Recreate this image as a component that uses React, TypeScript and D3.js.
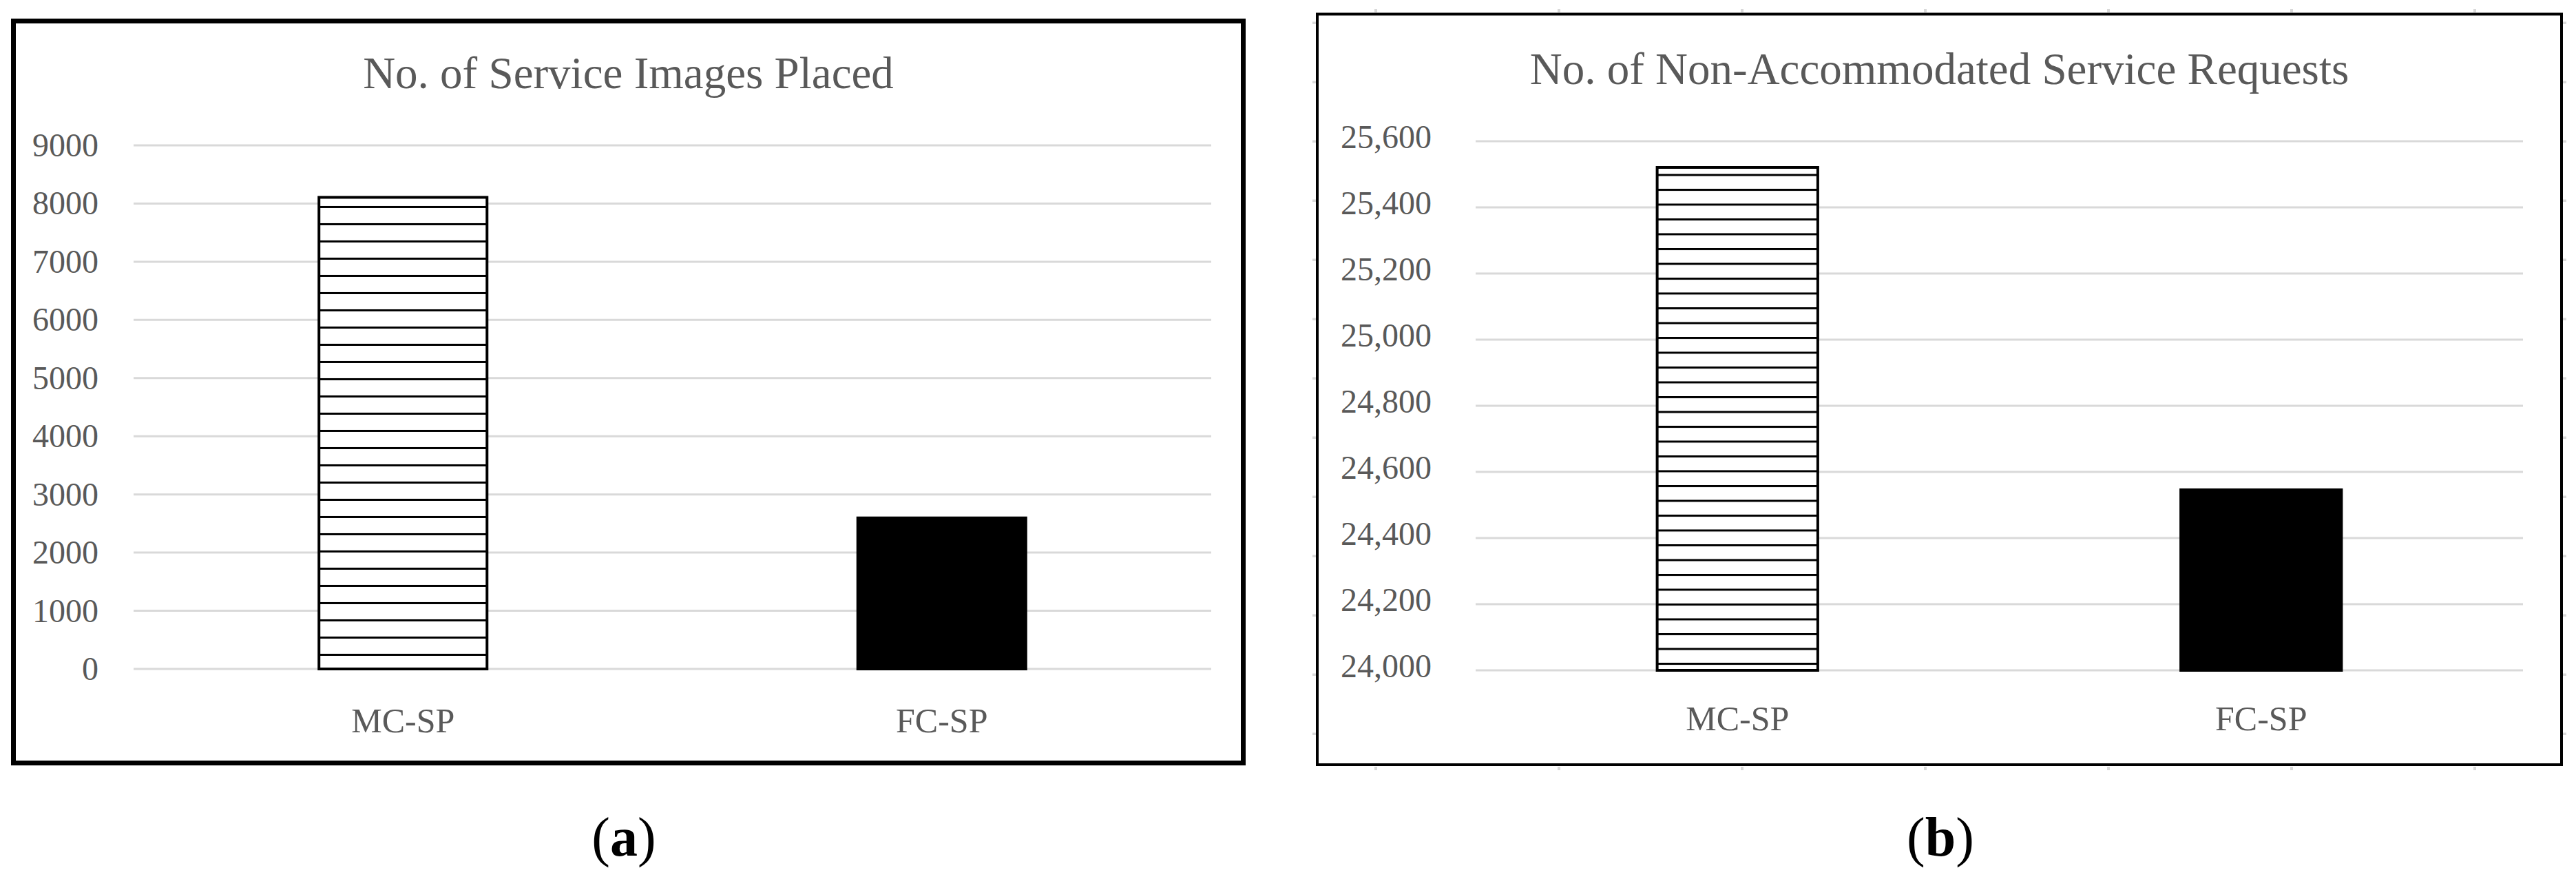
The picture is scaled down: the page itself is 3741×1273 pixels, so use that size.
import React from "react";
import * as d3 from "d3";

// values
const categories = ["MC-SP", "FC-SP"];
const imagesPlaced = [8130, 2620];
const imageTicks = [0, 1000, 2000, 3000, 4000, 5000, 6000, 7000, 8000, 9000];
const nonAccommodated = [25525, 24550];
const requestTicks = [24000, 24200, 24400, 24600, 24800, 25000, 25200, 25400, 25600];

const FONT = "'Liberation Serif', 'Times New Roman', serif";
const GREY = "#595959";
const GRID = "#d9d9d9";

type Box = { left: number; right: number; top: number; bottom: number };

type PanelProps = {
  id: string;
  title: string;
  letter: string;
  values: number[];
  ticks: number[];
  fmt: (n: number) => string;
  frame: Box;
  frameWidth: number;
  plot: Box;
  padInner: number;
  titleY: number;
  tickX: number;
  tickDy: number;
  catY: number;
  letterX: number;
  hatchGap: number;
  hatchOffset: number;
  stubs?: boolean;
};

function Panel(p: PanelProps) {
  const x = d3
    .scaleBand<string>()
    .domain(categories)
    .range([p.plot.left, p.plot.right])
    .paddingInner(p.padInner)
    .paddingOuter(p.padInner / 2);
  const y = d3
    .scaleLinear()
    .domain(d3.extent(p.ticks) as [number, number])
    .range([p.plot.bottom, p.plot.top]);

  const cx = (p.frame.left + p.frame.right) / 2;
  const hatchId = "hatch-" + p.id;
  const hatchY = y(p.values[0]) + p.hatchOffset - 1.5;

  // faint stub marks left over around the chart frame in panel (b)
  const stubRows = d3.range(33, 1070, 86);
  const stubCols = d3.range(1998, 3700, 266);

  return (
    <g>
      <defs>
        <pattern id={hatchId} patternUnits="userSpaceOnUse" x={0} y={hatchY} width={20} height={p.hatchGap}>
          <rect x={0} y={0} width={20} height={p.hatchGap} fill="#fff" />
          <rect x={0} y={0} width={20} height={3} fill="#000" />
        </pattern>
      </defs>

      {p.stubs && (
        <g fill={GRID}>
          {stubRows.map((r) => (
            <rect key={"l" + r} x={p.frame.left - 7} y={r - 1.5} width={5} height={3.5} />
          ))}
          {stubRows.map((r) => (
            <rect key={"r" + r} x={p.frame.right + 2} y={r - 1.5} width={5} height={3.5} />
          ))}
          {stubCols.map((c) => (
            <rect key={"t" + c} x={c - 2} y={13} width={4} height={5} />
          ))}
          {stubCols.map((c) => (
            <rect key={"b" + c} x={c - 2} y={p.frame.bottom + 3} width={4} height={5} />
          ))}
        </g>
      )}

      <rect
        x={p.frame.left}
        y={p.frame.top}
        width={p.frame.right - p.frame.left}
        height={p.frame.bottom - p.frame.top}
        fill="#fff"
        stroke="#000"
        strokeWidth={p.frameWidth}
      />

      <text x={cx} y={p.titleY} textAnchor="middle" fontFamily={FONT} fontSize={65} fill={GREY}>
        {p.title}
      </text>

      {p.ticks.map((t) => (
        <g key={t}>
          <line x1={p.plot.left} x2={p.plot.right} y1={y(t)} y2={y(t)} stroke={GRID} strokeWidth={3} />
          <text x={p.tickX} y={y(t) + p.tickDy} textAnchor="end" fontFamily={FONT} fontSize={48} fill={GREY}>
            {p.fmt(t)}
          </text>
        </g>
      ))}

      {categories.map((c, i) => {
        const bx = x(c)!;
        const top = y(p.values[i]);
        const base = y(p.ticks[0]);
        return (
          <rect
            key={c}
            x={bx + 2}
            y={top + 2}
            width={x.bandwidth() - 4}
            height={base - top - 2}
            fill={i === 0 ? `url(#${hatchId})` : "#000"}
            stroke="#000"
            strokeWidth={4}
          />
        );
      })}

      {categories.map((c) => (
        <text
          key={c}
          x={x(c)! + x.bandwidth() / 2}
          y={p.catY}
          textAnchor="middle"
          fontFamily={FONT}
          fontSize={50}
          fill={GREY}
        >
          {c}
        </text>
      ))}

      <text x={p.letterX} y={1242} textAnchor="middle" fontFamily={FONT} fontSize={80} fill="#000">
        (<tspan fontWeight="bold">{p.letter}</tspan>)
      </text>
    </g>
  );
}

export default function App() {
  return (
    <svg
      width={3741}
      height={1273}
      style={{ position: "absolute", left: 0, top: 0, background: "#fff" }}
    >
      <rect width={3741} height={1273} fill="#fff" />
      <Panel
        id="a"
        title="No. of Service Images Placed"
        letter="a"
        values={imagesPlaced}
        ticks={imageTicks}
        fmt={(n) => String(n)}
        frame={{ left: 19.5, right: 1805.5, top: 30.5, bottom: 1107.5 }}
        frameWidth={7}
        plot={{ left: 194, right: 1759, top: 211, bottom: 971 }}
        padInner={0.683}
        titleY={128}
        tickX={143}
        tickDy={16}
        catY={1063}
        letterX={906}
        hatchGap={25}
        hatchOffset={16}
      />
      <Panel
        id="b"
        title="No. of Non-Accommodated Service Requests"
        letter="b"
        values={nonAccommodated}
        ticks={requestTicks}
        fmt={d3.format(",")}
        frame={{ left: 1913, right: 3720, top: 20.5, bottom: 1110 }}
        frameWidth={4}
        plot={{ left: 2143, right: 3664, top: 205, bottom: 973 }}
        padInner={0.688}
        titleY={122}
        tickX={2079}
        tickDy={10}
        catY={1060}
        letterX={2818}
        hatchGap={21.5}
        hatchOffset={13}
        stubs
      />
    </svg>
  );
}
